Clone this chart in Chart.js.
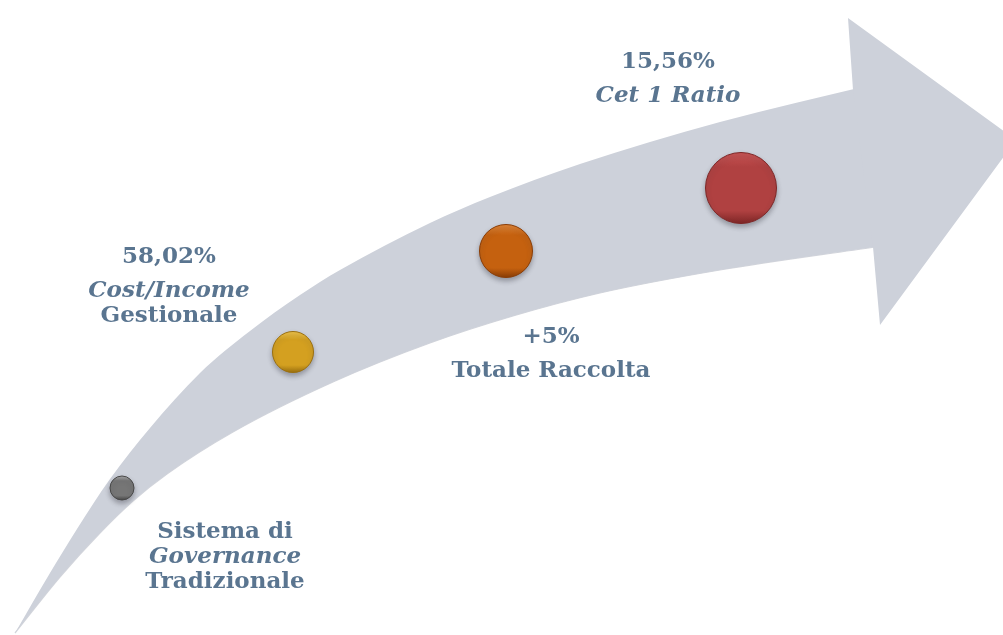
<!DOCTYPE html>
<html lang="it">
<head>
<meta charset="utf-8">
<title>Percorso</title>
<script src="https://cdn.jsdelivr.net/npm/chart.js@4.4.1/dist/chart.umd.min.js"></script>
<style>
  html, body { margin: 0; padding: 0; background: #fff; }
  #wrap { width: 1003px; height: 635px; position: relative; }
</style>
</head>
<body>
<div id="wrap"><canvas id="arrowChart"></canvas></div>
<script>
// ------ Data (pixel space 1003 x 635) ------

// arrow body, upper and lower edges
const upperX = [15, 50, 77, 110, 150, 200, 250, 300, 340, 430, 490, 580, 720, 875];
const upperY = [633, 573, 529, 479, 428, 373, 331, 295, 270, 223, 197, 164, 122, 84];
const lowerX = [15, 60, 100, 133, 167, 233, 333, 430, 513, 600, 720, 875];
const lowerY = [633, 577, 533, 501, 474, 432, 382, 343, 316, 293, 270, 247];

// arrow head outline
const headX = [853, 848, 1016, 880, 873];
const headY = [90, 18, 140, 325, 247];

// milestones
const stepX = [122, 293, 506, 741];
const stepY = [488, 352, 251, 188];
const stepR = [12, 20.5, 26.5, 35.5];

const stepValues = ['', '58,02%', '+5%', '15,56%'];
const stepNames  = [
  [['Sistema di', false], ['Governance', true], ['Tradizionale', false]],
  [['Cost/Income', true], ['Gestionale', false]],
  [['Totale Raccolta', false]],
  [['Cet 1 Ratio', true]]
];

// ------ Styles ------

const ARROW_GREY = '#cdd1da';
const TEXT_BLUE  = '#5a7590';
const FONT       = '"DejaVu Serif", Georgia, serif';
const BALLS = [
  { light: '#a9a9a9', base: '#767676', dark: '#484848' },
  { light: '#efc44a', base: '#d4a020', dark: '#9b700f' },
  { light: '#e08436', base: '#c5610f', dark: '#8a3d06' },
  { light: '#c95454', base: '#b04141', dark: '#7e2626' }
];
// label anchor: centre x, baseline of first line
const LABEL_POS = [
  { x: 225, y: 538 },
  { x: 169, y: 263 },
  { x: 551, y: 343 },
  { x: 668, y: 68 }
];
const VALUE_GAP = 34, LINE_GAP = 25, FONT_SIZE = 23;

const pts = (xs, ys) => xs.map((x, i) => ({ x, y: ys[i] }));

function ballFill(c) {
  const i = c.dataIndex, raw = c.raw;
  const sy = c.chart.scales.y;
  if (!raw || !sy) return BALLS[i % 4].base;
  const cy = sy.getPixelForValue(raw.y);
  const r  = raw.r;
  if (!isFinite(cy)) return BALLS[i % 4].base;
  const g = c.chart.ctx.createLinearGradient(0, cy - r, 0, cy + r);
  g.addColorStop(0, BALLS[i].light);
  g.addColorStop(0.2, BALLS[i].base);
  g.addColorStop(0.82, BALLS[i].base);
  g.addColorStop(1, BALLS[i].dark);
  return g;
}

// ------ Labels plugin ------

const labelsPlugin = {
  id: 'stepLabels',
  afterDatasetsDraw(chart) {
    const { ctx } = chart;
    ctx.save();
    ctx.fillStyle = TEXT_BLUE;
    ctx.textAlign = 'center';
    ctx.textBaseline = 'alphabetic';
    stepNames.forEach((lines, i) => {
      const pos = LABEL_POS[i];
      let y = pos.y;
      if (stepValues[i]) {
        ctx.font = `bold ${FONT_SIZE}px ${FONT}`;
        ctx.fillText(stepValues[i], pos.x, y);
        y += VALUE_GAP;
      }
      lines.forEach(([txt, italic], k) => {
        ctx.font = `${italic ? 'italic ' : ''}bold ${FONT_SIZE}px ${FONT}`;
        ctx.fillText(txt, pos.x, y + k * LINE_GAP);
      });
    });
    ctx.restore();
  }
};

// soft shadow on balls
const shadowPlugin = {
  id: 'ballShadow',
  beforeDatasetDraw(chart, args) {
    if (args.meta.type !== 'bubble') return;
    chart.ctx.save();
    chart.ctx.shadowColor = 'rgba(60,60,70,0.4)';
    chart.ctx.shadowBlur = 5;
    chart.ctx.shadowOffsetY = 3;
  },
  afterDatasetDraw(chart, args) {
    if (args.meta.type !== 'bubble') return;
    chart.ctx.restore();
  }
};

// ------ Chart ------

new Chart(document.getElementById('arrowChart'), {
  data: {
    datasets: [
      { type: 'bubble', data: stepX.map((x, i) => ({ x, y: stepY[i], r: stepR[i] })),
        backgroundColor: ballFill, borderColor: c => BALLS[(c.dataIndex || 0) % 4].dark,
        borderWidth: 1, order: 0 },
      { type: 'line', data: pts(upperX, upperY), fill: '+1',
        backgroundColor: ARROW_GREY, borderWidth: 0, pointRadius: 0,
        cubicInterpolationMode: 'monotone', order: 2 },
      { type: 'line', data: pts(lowerX, lowerY), fill: false,
        borderColor: 'rgba(175,179,189,0.55)', borderWidth: 1.2, pointRadius: 0,
        cubicInterpolationMode: 'monotone', order: 2 },
      { type: 'line', data: pts(headX, headY), fill: 'shape',
        backgroundColor: ARROW_GREY, borderWidth: 0, pointRadius: 0,
        tension: 0, order: 1 }
    ]
  },
  options: {
    responsive: true,
    maintainAspectRatio: false,
    animation: false,
    events: [],
    layout: { padding: 0, autoPadding: false },
    scales: {
      x: { type: 'linear', min: 0, max: 1003, display: false },
      y: { type: 'linear', min: 0, max: 635, reverse: true, display: false }
    },
    plugins: { legend: { display: false }, tooltip: { enabled: false } }
  },
  plugins: [shadowPlugin, labelsPlugin]
});
</script>
</body>
</html>
